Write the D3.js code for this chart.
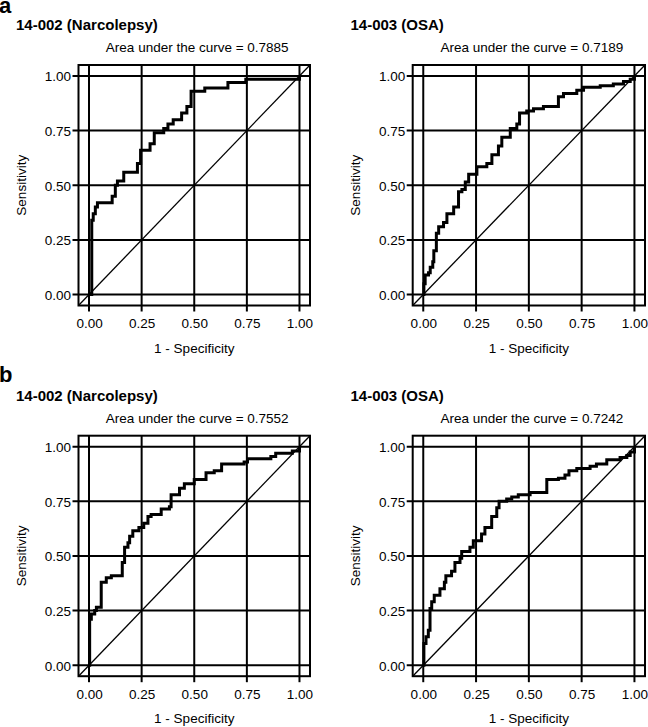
<!DOCTYPE html>
<html>
<head>
<meta charset="utf-8">
<script src="https://cdn.jsdelivr.net/npm/d3@7"></script>
<style>
html,body{margin:0;padding:0;background:#fff;}
svg{display:block;font-family:"Liberation Sans",Arial,Helvetica,sans-serif;}
</style>
</head>
<body>
<svg id="chart" width="648" height="727"></svg>
<script>
// ---- data ----
const tickValues = [0, 0.25, 0.5, 0.75, 1];
const tickLabels = ["0.00", "0.25", "0.50", "0.75", "1.00"];
const panelLetters = ["a", "b"];
const panelTitles = ["14-002 (Narcolepsy)", "14-003 (OSA)", "14-002 (Narcolepsy)", "14-003 (OSA)"];
const aucValues = ["0.7885", "0.7189", "0.7552", "0.7242"];
const xAxisTitle = "1 - Specificity";
const yAxisTitle = "Sensitivity";

// ROC step points (1 - specificity, sensitivity)
const aNarcFpr = [0, 0.013, 0.02, 0.03, 0.04, 0.11, 0.125, 0.135, 0.165, 0.23, 0.245, 0.29, 0.31, 0.355, 0.375, 0.40, 0.44, 0.465, 0.485, 0.55, 0.66, 0.745, 1.0];
const aNarcTpr = [0, 0.34, 0.37, 0.40, 0.42, 0.45, 0.50, 0.52, 0.56, 0.60, 0.66, 0.69, 0.74, 0.76, 0.78, 0.80, 0.83, 0.86, 0.93, 0.945, 0.97, 0.985, 1.0];

const aOsaFpr = [0, 0.003, 0.009, 0.025, 0.033, 0.045, 0.05, 0.062, 0.073, 0.096, 0.112, 0.144, 0.167, 0.183, 0.199, 0.215, 0.254, 0.301, 0.325, 0.356, 0.372, 0.412, 0.443, 0.456, 0.49, 0.522, 0.569, 0.64, 0.664, 0.727, 0.759, 0.838, 0.9, 0.948, 0.98, 1.0];
const aOsaTpr = [0, 0.05, 0.09, 0.10, 0.125, 0.15, 0.20, 0.28, 0.31, 0.33, 0.37, 0.40, 0.47, 0.48, 0.515, 0.55, 0.585, 0.60, 0.64, 0.68, 0.72, 0.76, 0.78, 0.83, 0.84, 0.85, 0.86, 0.905, 0.92, 0.935, 0.948, 0.955, 0.963, 0.975, 0.985, 1.0];

const bNarcFpr = [0, 0.003, 0.011, 0.027, 0.035, 0.058, 0.082, 0.106, 0.158, 0.169, 0.185, 0.193, 0.208, 0.237, 0.26, 0.28, 0.295, 0.343, 0.382, 0.39, 0.43, 0.453, 0.5, 0.556, 0.595, 0.63, 0.737, 0.753, 0.864, 0.887, 0.966, 1.0];
const bNarcTpr = [0, 0.21, 0.235, 0.25, 0.265, 0.38, 0.40, 0.41, 0.47, 0.54, 0.56, 0.59, 0.615, 0.63, 0.65, 0.68, 0.69, 0.715, 0.725, 0.78, 0.81, 0.83, 0.85, 0.88, 0.89, 0.92, 0.93, 0.945, 0.955, 0.97, 0.98, 1.0];

const bOsaFpr = [0, 0.003, 0.013, 0.024, 0.032, 0.04, 0.052, 0.079, 0.1, 0.107, 0.134, 0.15, 0.174, 0.182, 0.221, 0.237, 0.276, 0.292, 0.324, 0.348, 0.359, 0.395, 0.419, 0.45, 0.506, 0.585, 0.64, 0.671, 0.69, 0.727, 0.79, 0.82, 0.869, 0.932, 0.964, 0.98, 1.0];
const bOsaTpr = [0, 0.10, 0.13, 0.16, 0.26, 0.29, 0.32, 0.35, 0.38, 0.41, 0.43, 0.47, 0.49, 0.52, 0.54, 0.57, 0.60, 0.63, 0.68, 0.72, 0.75, 0.76, 0.77, 0.78, 0.79, 0.85, 0.855, 0.87, 0.89, 0.90, 0.91, 0.92, 0.94, 0.95, 0.96, 0.975, 1.0];

// ---- drawing ----
const svg = d3.select("#chart");
const FONT = 13.5;

const panels = [
  {fpr: aNarcFpr, tpr: aNarcTpr, title: panelTitles[0], auc: aucValues[0], box: [78.5, 310, 65, 305.5], titleX: 16, titleY: 30},
  {fpr: aOsaFpr, tpr: aOsaTpr, title: panelTitles[1], auc: aucValues[1], box: [412.7, 645, 65, 305.5], titleX: 350.5, titleY: 30},
  {fpr: bNarcFpr, tpr: bNarcTpr, title: panelTitles[2], auc: aucValues[2], box: [78.5, 310, 435.7, 676.2], titleX: 16, titleY: 401},
  {fpr: bOsaFpr, tpr: bOsaTpr, title: panelTitles[3], auc: aucValues[3], box: [412.7, 645, 435.7, 676.2], titleX: 350.5, titleY: 401}
];

// panel letters
svg.append("text").attr("x", -1).attr("y", 12.5).attr("font-size", 22).attr("font-weight", "bold").text(panelLetters[0]);
svg.append("text").attr("x", -1).attr("y", 381.5).attr("font-size", 22).attr("font-weight", "bold").text(panelLetters[1]);

panels.forEach(p => {
  const [x0, x1, y0, y1] = p.box;
  const x = d3.scaleLinear().domain([-0.05, 1.05]).range([x0, x1]);
  const y = d3.scaleLinear().domain([-0.05, 1.05]).range([y1, y0]);
  const g = svg.append("g");

  // title
  g.append("text").attr("x", p.titleX).attr("y", p.titleY)
    .attr("font-size", 15).attr("font-weight", "bold").text(p.title);
  // AUC
  g.append("text").attr("x", x(0.5) + 3).attr("y", p.titleY + 21.7)
    .attr("text-anchor", "middle").attr("font-size", FONT)
    .text("Area under the curve = " + p.auc);

  // gridlines
  g.append("g").selectAll("line.v").data(tickValues).join("line")
    .attr("x1", d => x(d)).attr("x2", d => x(d))
    .attr("y1", y0).attr("y2", y1 + 6)
    .attr("stroke", "#000").attr("stroke-width", 2);
  g.append("g").selectAll("line.h").data(tickValues).join("line")
    .attr("x1", x0 - 6).attr("x2", x1)
    .attr("y1", d => y(d)).attr("y2", d => y(d))
    .attr("stroke", "#000").attr("stroke-width", 2);

  // frame
  g.append("rect").attr("x", x0).attr("y", y0)
    .attr("width", x1 - x0).attr("height", y1 - y0)
    .attr("fill", "none").attr("stroke", "#000").attr("stroke-width", 2);

  // axes labels via d3 axes (tick text)
  const xAxis = d3.axisBottom(x).tickValues(tickValues)
    .tickFormat((d, i) => tickLabels[i]).tickSize(0).tickPadding(0);
  const xa = g.append("g").attr("transform", `translate(0,${y1})`).call(xAxis);
  xa.select(".domain").remove();
  xa.selectAll("text").attr("font-size", FONT).attr("font-family", null)
    .attr("dy", null).attr("y", 22.5).attr("fill", "#000");

  const yAxis = d3.axisLeft(y).tickValues(tickValues)
    .tickFormat((d, i) => tickLabels[i]).tickSize(0).tickPadding(0);
  const ya = g.append("g").attr("transform", `translate(${x0},0)`).call(yAxis);
  ya.select(".domain").remove();
  ya.selectAll("text").attr("font-size", FONT).attr("font-family", null)
    .attr("x", -7.5).attr("dy", "0.36em").attr("fill", "#000");

  // axis titles
  g.append("text").attr("x", x(0.5)).attr("y", y1 + 47)
    .attr("text-anchor", "middle").attr("font-size", FONT).text(xAxisTitle);
  g.append("text")
    .attr("transform", `translate(${x0 - 53},${y(0.5)}) rotate(-90)`)
    .attr("text-anchor", "middle").attr("font-size", FONT).text(yAxisTitle);

  // diagonal reference
  g.append("line").attr("x1", x(-0.05)).attr("y1", y(-0.05))
    .attr("x2", x(1.05)).attr("y2", y(1.05))
    .attr("stroke", "#000").attr("stroke-width", 1.3);

  // ROC curve
  const pts = p.fpr.map((f, i) => [f, p.tpr[i]]);
  const line = d3.line().x(d => x(d[0])).y(d => y(d[1])).curve(d3.curveStepAfter);
  g.append("path").attr("d", line(pts))
    .attr("fill", "none").attr("stroke", "#000").attr("stroke-width", 3)
    .attr("stroke-linejoin", "miter");
});
</script>
</body>
</html>
